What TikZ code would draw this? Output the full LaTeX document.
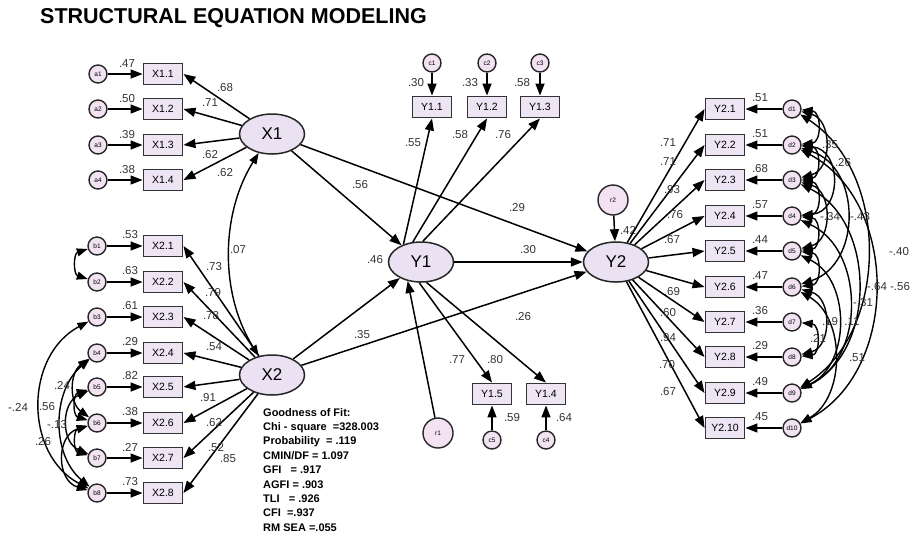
\documentclass[tikz,border=0pt]{standalone}
\usepackage{fontspec}
\setmainfont{Liberation Sans}
\usetikzlibrary{arrows.meta,shapes.geometric}
\definecolor{boxfill}{HTML}{EDE4F4}
\definecolor{latfill}{HTML}{EAE2F3}
\definecolor{errfill}{HTML}{F2E2F2}
\definecolor{labcol}{HTML}{333333}
\begin{document}
\begin{tikzpicture}[x=1pt,y=1pt,
  lab/.style={font=\fontsize{11.5}{12}\selectfont,text=labcol,inner sep=0pt},
  obs/.style={rectangle,draw=black!80,line width=1.9pt,fill=boxfill,minimum width=39pt,minimum height=21pt,inner sep=0pt,font=\fontsize{10.5}{12}\selectfont},
  lat/.style={ellipse,draw=black!85,line width=1.5pt,fill=latfill,minimum width=65pt,minimum height=40pt,inner sep=0pt,font=\fontsize{17}{18}\selectfont},
  err/.style={circle,draw=black!85,line width=1.4pt,fill=errfill,minimum size=18pt,inner sep=0pt,font=\fontsize{6.5}{6.5}\selectfont},
  res/.style={err,minimum size=30pt},
  arr/.style={line width=1.5pt,-{Triangle[length=12pt,width=9pt]}},
  cov/.style={line width=1.4pt,{Triangle[length=11pt,width=8pt]}-{Triangle[length=11pt,width=8pt]}},
]
\useasboundingbox (0,0) rectangle (912,-542);

\node[anchor=west,font=\fontsize{21.5}{22}\selectfont\bfseries,inner sep=0pt] (title) at (40,-18) {STRUCTURAL EQUATION MODELING};

% latent variables
\node[lat] (X1) at (272,-134) {X1};
\node[lat] (X2) at (272,-375) {X2};
\node[lat] (Y1) at (421,-262) {Y1};
\node[lat] (Y2) at (616,-262) {Y2};

% X1 indicators
\foreach \i/\y/\l in {1/74/.47,2/109/.50,3/145/.39,4/180/.38}{
  \node[obs] (X1\i) at (163,-\y) {X1.\i};
  \node[err] (a\i) at (98,-\y) {a\i};
  \draw[arr] (a\i) -- (X1\i);
  \draw[arr] (X1) -- (X1\i.east);
  \node[lab] at (127,-\y+10) {\l};
}
\node[lab] at (225,-88) {.68};
\node[lab] at (210,-103) {.71};
\node[lab] at (210,-155) {.62};
\node[lab] at (225,-173) {.62};

% X2 indicators
\foreach \i/\y/\l in {1/246/.53,2/282/.63,3/317/.61,4/353/.29,5/387/.82,6/423/.38,7/458/.27,8/493/.73}{
  \node[obs] (X2\i) at (163,-\y) {X2.\i};
  \node[err] (b\i) at (97,-\y) {b\i};
  \draw[arr] (b\i) -- (X2\i);
  \draw[arr] (X2) -- (X2\i.east);
  \node[lab] at (130,-\y+11) {\l};
}
\node[lab] at (214,-267) {.73};
\node[lab] at (213,-293) {.79};
\node[lab] at (211,-316) {.78};
\node[lab] at (214,-347) {.54};
\node[lab] at (208,-398) {.91};
\node[lab] at (214,-423) {.62};
\node[lab] at (216,-448) {.52};
\node[lab] at (228,-459) {.85};

% left error covariances
\draw[cov] (b1) to[bend right=72,looseness=1.3] (b2);
\draw[cov] (b3) to[bend right=62,looseness=1.12] (b8);
\draw[cov] (b4) to[bend right=50,looseness=1.0] (b8);
\draw[cov] (b4) to[bend right=54,looseness=1.07] (b6);
\draw[cov] (b5) to[bend right=66,looseness=1.21] (b7);
\draw[cov] (b6) to[bend right=73,looseness=1.32] (b8);
\draw[cov] (b5) to[bend right=73,looseness=1.32] (b6);
\draw[cov] (b6) to[bend right=73,looseness=1.32] (b7);
\node[lab] at (18,-407) {-.24};
\node[lab] at (47,-407) {.56};
\node[lab] at (62,-385) {.24};
\node[lab] at (57,-425) {-.13};
\node[lab] at (43,-442) {.26};

% X1 <-> X2
\draw[cov] (X1.235) to[bend right=32,looseness=0.92] (X2.125);
\node[lab] at (238,-250) {.07};

% Y1 indicators
\node[obs] (Y11) at (432,-107) {Y1.1};
\node[obs] (Y12) at (487,-107) {Y1.2};
\node[obs] (Y13) at (540,-107) {Y1.3};
\node[err] (c1) at (432,-63) {c1};
\node[err] (c2) at (487,-63) {c2};
\node[err] (c3) at (540,-63) {c3};
\draw[arr] (c1) -- (Y11);
\draw[arr] (c2) -- (Y12);
\draw[arr] (c3) -- (Y13);
\draw[arr] (Y1.135) -- (Y11.south);
\draw[arr] (Y1.112) -- (Y12.south);
\draw[arr] (Y1.85) -- (Y13.south);
\node[lab] at (416,-83) {.30};
\node[lab] at (470,-83) {.33};
\node[lab] at (522,-83) {.58};
\node[lab] at (413,-143) {.55};
\node[lab] at (460,-135) {.58};
\node[lab] at (503,-135) {.76};

\node[obs] (Y15) at (492,-394) {Y1.5};
\node[obs] (Y14) at (546,-394) {Y1.4};
\node[err] (c5) at (492,-440) {c5};
\node[err] (c4) at (546,-440) {c4};
\draw[arr] (c5) -- (Y15);
\draw[arr] (c4) -- (Y14);
\draw[arr] (Y1.265) -- (Y15.north);
\draw[arr] (Y1.285) -- (Y14.north);
\node[lab] at (512,-418) {.59};
\node[lab] at (564,-418) {.64};
\node[lab] at (457,-360) {.77};
\node[lab] at (495,-360) {.80};

% residuals
\node[res] (r1) at (438,-433) {r1};
\node[res] (r2) at (613,-200) {r2};
\draw[arr] (r1) -- (Y1.235);
\draw[arr] (r2) -- (Y2);
\node[lab] at (628,-230) {.42};

% structural paths
\draw[arr] (X1) -- (Y1);
\draw[arr] (X1) -- (Y2);
\draw[arr] (Y1) -- (Y2);
\draw[arr] (X2) -- (Y1);
\draw[arr] (X2) -- (Y2);
\node[lab] at (360,-185) {.56};
\node[lab] at (517,-208) {.29};
\node[lab] at (528,-250) {.30};
\node[lab] at (375,-260) {.46};
\node[lab] at (362,-335) {.35};
\node[lab] at (523,-317) {.26};

% Y2 indicators
\foreach \i/\y/\l in {1/109/.51,2/145/.51,3/180/.68,4/216/.57,5/251/.44,6/287/.47,7/322/.36,8/357/.29,9/393/.49,10/428/.45}{
  \node[obs] (Y2\i) at (725,-\y) {Y2.\i};
  \node[err] (d\i) at (792,-\y) {d\i};
  \draw[arr] (d\i) -- (Y2\i);
  \draw[arr] (Y2) -- (Y2\i.west);
  \node[lab] at (760,-\y+11) {\l};
}
\node[lab] at (668,-143) {.71};
\node[lab] at (668,-162) {.71};
\node[lab] at (672,-190) {.93};
\node[lab] at (675,-215) {.76};
\node[lab] at (672,-240) {.67};
\node[lab] at (672,-292) {.69};
\node[lab] at (668,-313) {.60};
\node[lab] at (668,-338) {.94};
\node[lab] at (667,-365) {.70};
\node[lab] at (668,-392) {.67};

% right error covariances
\draw[cov] (d1) to[bend left=85,looseness=1.5] (d2);
\draw[cov] (d2) to[bend left=85,looseness=1.5] (d3);
\draw[cov] (d3) to[bend left=85,looseness=1.5] (d4);
\draw[cov] (d4) to[bend left=85,looseness=1.5] (d5);
\draw[cov] (d5) to[bend left=85,looseness=1.5] (d6);
\draw[cov] (d7) to[bend left=85,looseness=1.45] (d8);
\draw[cov] (d1) to[bend left=75,looseness=1.25] (d3);
\draw[cov] (d2) to[bend left=85,looseness=1.5] (d4);
\draw[cov] (d3) to[bend left=75,looseness=1.25] (d5);
\draw[cov] (d2) to[bend left=72,looseness=1.2] (d6);
\draw[cov] (d1) to[bend left=57,looseness=1.0] (d9);
\draw[cov] (d2) to[bend left=62,looseness=1.05] (d10);
\draw[cov] (d3) to[bend left=64,looseness=1.06] (d9);
\draw[cov] (d4) to[bend left=65,looseness=1.08] (d9);
\draw[cov] (d5) to[bend left=64,looseness=1.07] (d9);
\draw[cov] (d6) to[bend left=75,looseness=1.25] (d8);
\draw[cov] (d6) to[bend left=60,looseness=1.02] (d10);
\node[lab] at (830,-145) {.35};
\node[lab] at (843,-163) {.26};
\node[lab] at (830,-217) {-.34};
\node[lab] at (860,-217) {-.43};
\node[lab] at (899,-252) {-.40};
\node[lab] at (877,-287) {-.64};
\node[lab] at (900,-287) {-.56};
\node[lab] at (863,-303) {-.31};
\node[lab] at (830,-322) {.19};
\node[lab] at (852,-322) {.11};
\node[lab] at (818,-338) {.21};
\node[lab] at (857,-358) {.51};

% fit indices
\node[anchor=north west,align=left,inner sep=0pt,font=\fontsize{11}{14.4}\selectfont\bfseries] (fit) at (263,-408) {Goodness of Fit:\\
Chi - square \ =328.003\\
Probability \ = .119\\
CMIN/DF = 1.097\\
GFI \ \ = .917\\
AGFI = .903\\
TLI \ \ = .926\\
CFI \ =.937\\
RM SEA =.055};
\end{tikzpicture}
\end{document}
